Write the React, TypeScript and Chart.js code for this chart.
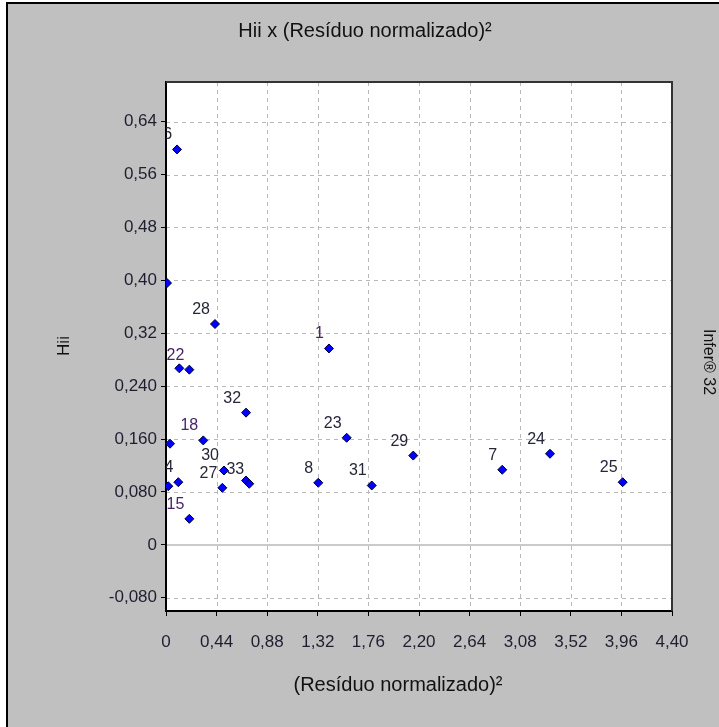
import React, { useEffect, useRef } from "react";
import { Chart, registerables } from "chart.js";

Chart.register(...registerables);

// ---- data ----
const xValues = [0.096, 0.009, 0.426, 1.417, 0.116, 0.203, 0.696, 0.324, 0.035, 0.02, 0.107, 0.504, 0.49, 0.696, 0.724, 0.203, 1.324, 1.571, 1.789, 2.15, 2.924, 3.339, 3.971];
const yValues = [0.598, 0.396, 0.334, 0.297, 0.267, 0.265, 0.2, 0.158, 0.153, 0.0887, 0.0948, 0.1125, 0.0863, 0.0973, 0.0924, 0.0394, 0.0939, 0.162, 0.0898, 0.135, 0.1136, 0.1378, 0.0948];
const pointLabels = ["6", "", "28", "1", "", "22", "32", "18", "", "", "4", "30", "27", "", "33", "15", "8", "23", "31", "29", "7", "24", "25"];
const purpleLabels = ["1", "18", "15", "22"];

const xTickValues = [0, 0.44, 0.88, 1.32, 1.76, 2.2, 2.64, 3.08, 3.52, 3.96, 4.4];
const xTickLabels = ["0", "0,44", "0,88", "1,32", "1,76", "2,20", "2,64", "3,08", "3,52", "3,96", "4,40"];
const yTickValues = [-0.08, 0, 0.08, 0.16, 0.24, 0.32, 0.4, 0.48, 0.56, 0.64];
const yTickLabels = ["-0,080", "0", "0,080", "0,160", "0,240", "0,32", "0,40", "0,48", "0,56", "0,64"];

const chartTitle = "Hii x (Resíduo normalizado)²";
const xTitle = "(Resíduo normalizado)²";
const yTitle = "Hii";
const sideNote = "Infer® 32";

const FONT = "'Liberation Sans', Arial, sans-serif";

const decorPlugin = {
  id: "decor",
  beforeDraw(chart: any) {
    const ctx = chart.ctx;
    const { left, right, top, bottom } = chart.chartArea;
    const W = chart.width;
    const H = chart.height;
    ctx.save();
    ctx.fillStyle = "#ffffff";
    ctx.fillRect(0, 0, W, H);
    ctx.fillStyle = "#c0c0c0";
    ctx.fillRect(6, 2, W - 6, H - 2);
    ctx.fillStyle = "#000000";
    ctx.fillRect(6, 2, 2, H - 2);
    ctx.fillRect(6, 2, W - 6, 2);
    ctx.fillStyle = "#ffffff";
    ctx.fillRect(left, top, right - left, bottom - top);

    const xs = chart.scales.x;
    const ys = chart.scales.y;
    ctx.strokeStyle = "#b8b8b8";
    ctx.lineWidth = 1;
    ctx.setLineDash([4, 4]);
    xTickValues.forEach((v) => {
      if (v <= 0 || v >= 4.4) return;
      const px = Math.round(xs.getPixelForValue(v)) + 0.5;
      ctx.beginPath();
      ctx.moveTo(px, top);
      ctx.lineTo(px, bottom);
      ctx.stroke();
    });
    yTickValues.forEach((v) => {
      if (v === 0) return;
      const py = Math.round(ys.getPixelForValue(v)) + 0.5;
      ctx.beginPath();
      ctx.moveTo(left, py);
      ctx.lineTo(right, py);
      ctx.stroke();
    });
    ctx.setLineDash([]);
    ctx.strokeStyle = "#cacaca";
    ctx.lineWidth = 2;
    const zy = Math.round(ys.getPixelForValue(0));
    ctx.beginPath();
    ctx.moveTo(left, zy);
    ctx.lineTo(right, zy);
    ctx.stroke();
    ctx.restore();
  },
  afterDatasetsDraw(chart: any) {
    const ctx = chart.ctx;
    const { left, right, top, bottom } = chart.chartArea;
    const meta = chart.getDatasetMeta(0);
    ctx.save();
    ctx.beginPath();
    ctx.rect(left, top, right - left, bottom - top);
    ctx.clip();
    ctx.font = `16px ${FONT}`;
    ctx.textAlign = "right";
    ctx.textBaseline = "alphabetic";
    meta.data.forEach((el: any, i: number) => {
      const t = pointLabels[i];
      if (!t) return;
      ctx.fillStyle = purpleLabels.includes(t) ? "#4a2466" : "#26263a";
      ctx.fillText(t, el.x - 5, el.y - 10);
    });
    ctx.restore();
  },
  afterDraw(chart: any) {
    const ctx = chart.ctx;
    const { left, right, top, bottom } = chart.chartArea;
    ctx.save();
    // top and right frame
    ctx.fillStyle = "#333333";
    ctx.fillRect(left, top - 1, right - left + 1, 2);
    ctx.fillRect(right - 1, top - 1, 2, bottom - top + 1);

    ctx.fillStyle = "#111111";
    ctx.textAlign = "center";
    ctx.textBaseline = "middle";
    ctx.font = `20px ${FONT}`;
    ctx.fillText(chartTitle, 365, 31);
    ctx.fillText(xTitle, 398, 685);

    ctx.font = `17px ${FONT}`;
    ctx.save();
    ctx.translate(64, 346);
    ctx.rotate(-Math.PI / 2);
    ctx.fillText(yTitle, 0, 0);
    ctx.restore();

    ctx.font = `16px ${FONT}`;
    ctx.save();
    ctx.translate(708, 362);
    ctx.rotate(Math.PI / 2);
    ctx.fillText(sideNote, 0, 0);
    ctx.restore();
    ctx.restore();
  },
};

export default function App() {
  const ref = useRef<HTMLCanvasElement>(null);
  useEffect(() => {
    if (!ref.current) return;
    const chart = new Chart(ref.current, {
      type: "scatter",
      data: {
        datasets: [
          {
            data: xValues.map((x, i) => ({ x, y: yValues[i] })),
            pointStyle: "rectRot",
            pointRadius: 4.5,
            backgroundColor: "#0000ff",
            borderColor: "#00003a",
            borderWidth: 1,
            clip: 0,
          } as any,
        ],
      },
      options: {
        animation: false,
        responsive: false,
        maintainAspectRatio: false,
        devicePixelRatio: 1,
        layout: { padding: { left: 0, top: 82, right: 47, bottom: 76 } },
        plugins: {
          legend: { display: false },
          tooltip: { enabled: false },
          title: { display: false },
        },
        scales: {
          x: {
            type: "linear",
            min: 0,
            max: 4.4,
            afterBuildTicks: (s: any) => {
              s.ticks = xTickValues.map((v) => ({ value: v }));
            },
            afterFit: (s: any) => {
              s.height = 40;
            },
            ticks: {
              autoSkip: false,
              maxRotation: 0,
              padding: 16,
              color: "#1e1e30",
              font: { family: FONT, size: 17 },
              callback: (_v: any, i: number) => xTickLabels[i],
            },
            grid: {
              drawOnChartArea: false,
              drawTicks: true,
              tickLength: 5,
              tickColor: "#000000",
              tickWidth: 1,
            },
            border: { display: true, color: "#000000", width: 2 },
          },
          y: {
            type: "linear",
            min: -0.1,
            max: 0.7,
            afterBuildTicks: (s: any) => {
              s.ticks = yTickValues.map((v) => ({ value: v }));
            },
            afterFit: (s: any) => {
              s.width = 166;
            },
            ticks: {
              autoSkip: false,
              padding: 4,
              color: "#1e1e30",
              font: { family: FONT, size: 17 },
              callback: (_v: any, i: number) => yTickLabels[i],
            },
            grid: {
              drawOnChartArea: false,
              drawTicks: true,
              tickLength: 5,
              tickColor: "#000000",
              tickWidth: 1,
            },
            border: { display: true, color: "#000000", width: 2 },
          },
        },
      },
      plugins: [decorPlugin],
    });
    return () => chart.destroy();
  }, []);
  return (
    <div style={{ position: "absolute", left: 0, top: 0, width: 719, height: 727, overflow: "hidden" }}>
      <canvas ref={ref} width={719} height={727} style={{ display: "block", width: 719, height: 727 }} />
    </div>
  );
}
